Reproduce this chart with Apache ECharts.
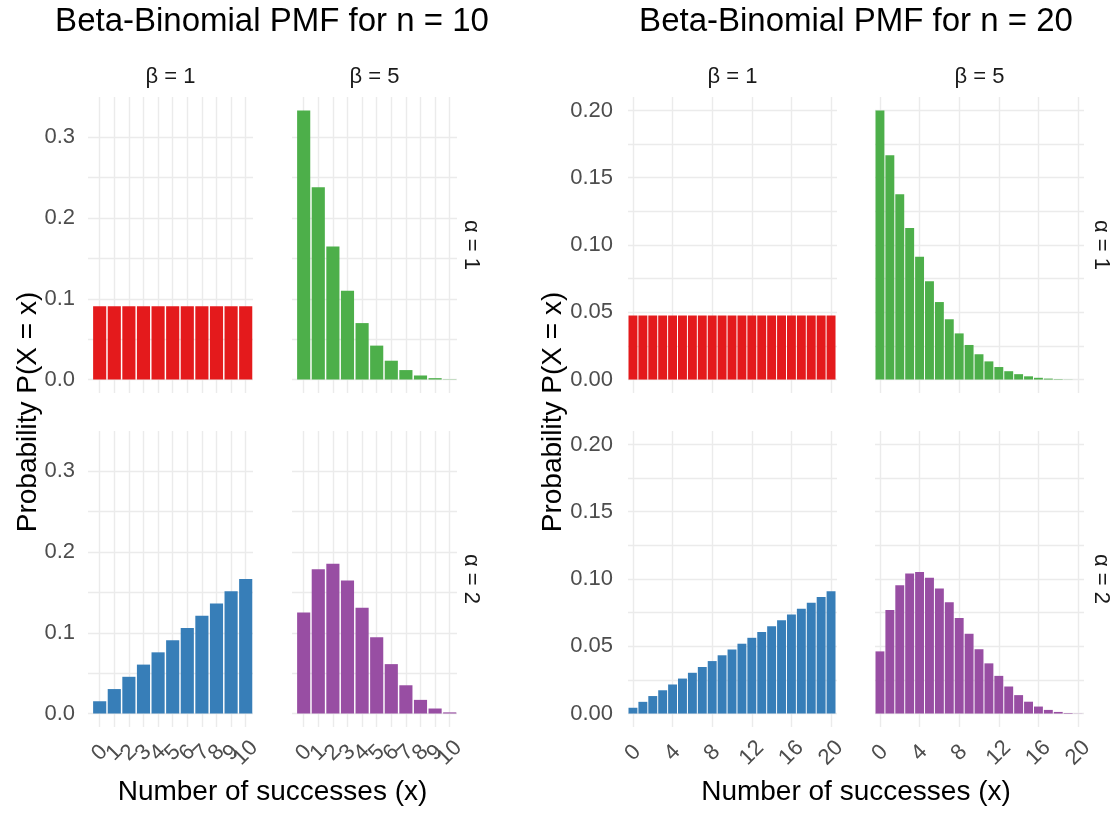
<!DOCTYPE html>
<html><head><meta charset="utf-8">
<script src="https://cdn.jsdelivr.net/npm/echarts@6/dist/echarts.min.js"></script>
<style>html,body{margin:0;padding:0;background:#fff}#c{width:1120px;height:814px}</style>
</head><body><div id="c"></div>
<script>
// ---- data ----
const x10 = [0,1,2,3,4,5,6,7,8,9,10];
const x20 = [0,1,2,3,4,5,6,7,8,9,10,11,12,13,14,15,16,17,18,19,20];

const n10_a1_b1 = [0.0909,0.0909,0.0909,0.0909,0.0909,0.0909,0.0909,0.0909,0.0909,0.0909,0.0909];
const n10_a1_b5 = [0.3333,0.2381,0.1648,0.1099,0.0699,0.0420,0.0233,0.0117,0.0050,0.0017,0.0003];
const n10_a2_b1 = [0.0152,0.0303,0.0455,0.0606,0.0758,0.0909,0.1061,0.1212,0.1364,0.1515,0.1667];
const n10_a2_b5 = [0.1250,0.1786,0.1854,0.1648,0.1311,0.0944,0.0612,0.0350,0.0169,0.0062,0.0014];

const n20_a1_b1 = [0.0476,0.0476,0.0476,0.0476,0.0476,0.0476,0.0476,0.0476,0.0476,0.0476,0.0476,
                   0.0476,0.0476,0.0476,0.0476,0.0476,0.0476,0.0476,0.0476,0.0476,0.0476];
const n20_a1_b5 = [0.2000,0.1667,0.1377,0.1126,0.0912,0.0730,0.0576,0.0448,0.0343,0.0257,0.0188,
                   0.0135,0.0093,0.0062,0.0040,0.0024,0.0013,0.0007,0.0003,0.0001,0.0000];
const n20_a2_b1 = [0.0043,0.0087,0.0130,0.0173,0.0216,0.0260,0.0303,0.0346,0.0390,0.0433,0.0476,
                   0.0519,0.0563,0.0606,0.0649,0.0693,0.0736,0.0779,0.0823,0.0866,0.0909];
const n20_a2_b5 = [0.0462,0.0769,0.0953,0.1040,0.1052,0.1010,0.0930,0.0827,0.0711,0.0593,0.0478,
                   0.0373,0.0280,0.0201,0.0137,0.0088,0.0052,0.0027,0.0012,0.0004,0.0001];

// tick labels / grid lines
const xTicks10 = [0,1,2,3,4,5,6,7,8,9,10];
const xTicks20 = [0,4,8,12,16,20];
const yTicks10 = [0,0.1,0.2,0.3];
const yGrid10  = [0,0.05,0.1,0.15,0.2,0.25,0.3];
const yTicks20 = [0,0.05,0.1,0.15,0.2];
const yGrid20  = [0,0.025,0.05,0.075,0.1,0.125,0.15,0.175,0.2];

const titles = ['Beta-Binomial PMF for n = 10','Beta-Binomial PMF for n = 20'];
const betaStrips = ['β = 1','β = 5'];
const alphaStrips = ['α = 1','α = 2'];
const xTitle = 'Number of successes (x)';
const yTitle = 'Probability P(X = x)';
const colors = {a1b1:'#E41A1C', a1b5:'#4DAF4A', a2b1:'#377EB8', a2b5:'#984EA3'};

// ---- layout ----
const FONT = '"Liberation Sans", Arial, Helvetica, sans-serif';
const rowTop = [97, 431], rowH = 296;
const plots = [
  {colLeft:[88,292], colW:165, xs:x10, xMin:-0.8, xMax:10.5, xTicks:xTicks10,
   yMin:-0.0167, yMax:0.35, yTicks:yTicks10, yGrid:yGrid10, dec:1, lblMargin:13,
   data:[[n10_a1_b1,n10_a1_b5],[n10_a2_b1,n10_a2_b5]], titleX:272, yTitleX:28, alphaX:471},
  {colLeft:[628,875], colW:209, xs:x20, xMin:-0.5, xMax:20.6, xTicks:xTicks20,
   yMin:-0.01, yMax:0.21, yTicks:yTicks20, yGrid:yGrid20, dec:2, lblMargin:15,
   data:[[n20_a1_b1,n20_a1_b5],[n20_a2_b1,n20_a2_b5]], titleX:856, yTitleX:553, alphaX:1101}
];
const colorGrid = [[colors.a1b1, colors.a1b5],[colors.a2b1, colors.a2b5]];

const grid = [], xAxis = [], yAxis = [], series = [], graphic = [];
const gridLine = {show:true, lineStyle:{color:'#EBEBEB', width:1.4}};
let idx = 0;
plots.forEach((p, pi) => {
  // blank placeholders at the axis ends keep ECharts from dropping the crowded real labels
  const xLabelVals = [p.xMin].concat(p.xTicks, [p.xMax]);
  for (let r = 0; r < 2; r++) {
    for (let c = 0; c < 2; c++) {
      grid.push({left:p.colLeft[c], top:rowTop[r], width:p.colW, height:rowH, containLabel:false, outerBoundsMode:'none'});
      xAxis.push({
        type:'value', gridIndex:idx, min:p.xMin, max:p.xMax,
        axisLine:{show:false}, axisTick:{show:false, customValues:p.xTicks},
        axisLabel:{show:r===1, customValues:xLabelVals, rotate:45, align:'center', verticalAlign:'middle',
          margin:26, hideOverlap:false, showMinLabel:false, showMaxLabel:false,
          color:'#4D4D4D', fontSize:22, fontFamily:FONT,
          formatter:v => (p.xTicks.indexOf(Number(v)) >= 0 ? String(v) : '')},
        splitLine:gridLine
      });
      yAxis.push({
        type:'value', gridIndex:idx, min:p.yMin, max:p.yMax,
        axisLine:{show:false}, axisTick:{show:false, customValues:p.yGrid},
        axisLabel:{show:c===0, customValues:p.yTicks, margin:p.lblMargin, color:'#4D4D4D', fontSize:22,
          showMinLabel:true, showMaxLabel:true, fontFamily:FONT, formatter:v => Number(v).toFixed(p.dec)},
        splitLine:gridLine
      });
      const vals = p.data[r][c];
      series.push({
        type:'bar', xAxisIndex:idx, yAxisIndex:idx, barWidth:'90%', silent:true,
        itemStyle:{color:colorGrid[r][c]},
        data:p.xs.map((x,j)=>[x, vals[j]])
      });
      idx++;
    }
  }
  // titles and strips
  graphic.push({type:'text', x:p.titleX, y:22, style:{text:titles[pi], fill:'#000',
    font:'33px '+FONT, textAlign:'center', textVerticalAlign:'middle'}});
  for (let c = 0; c < 2; c++) {
    graphic.push({type:'text', x:p.colLeft[c]+p.colW/2, y:77, style:{text:betaStrips[c], fill:'#1A1A1A',
      font:'22px '+FONT, textAlign:'center', textVerticalAlign:'middle'}});
  }
  for (let r = 0; r < 2; r++) {
    graphic.push({type:'text', x:p.alphaX, y:rowTop[r]+rowH/2, rotation:-Math.PI/2, style:{text:alphaStrips[r],
      fill:'#1A1A1A', font:'22px '+FONT, textAlign:'center', textVerticalAlign:'middle'}});
  }
  const cx = (p.colLeft[0] + p.colLeft[1] + p.colW)/2;
  graphic.push({type:'text', x:cx, y:792, style:{text:xTitle, fill:'#000', font:'28px '+FONT,
    textAlign:'center', textVerticalAlign:'middle'}});
  graphic.push({type:'text', x:p.yTitleX, y:(rowTop[0]+rowTop[1]+rowH)/2, rotation:Math.PI/2,
    style:{text:yTitle, fill:'#000', font:'28px '+FONT, textAlign:'center', textVerticalAlign:'middle'}});
});

const chart = echarts.init(document.getElementById('c'), null, {renderer:'canvas'});
chart.setOption({animation:false, backgroundColor:'#fff', grid, xAxis, yAxis, series, graphic});
</script></body></html>
